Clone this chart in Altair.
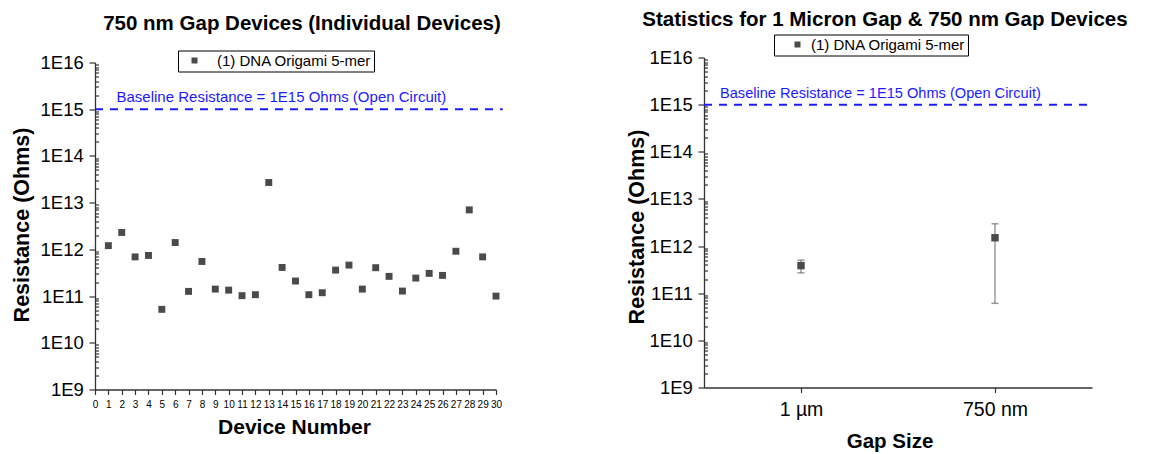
import altair as alt
import pandas as pd

# ---- data -------------------------------------------------------------
device_number = list(range(1, 31))
resistance_750nm = [
    1.2e12, 2.3e12, 6.9e11, 7.4e11, 5.2e10, 1.4e12, 1.26e11, 5.5e11, 1.41e11, 1.34e11,
    1.02e11, 1.07e11, 2.7e13, 4.1e11, 2.1e11, 1.07e11, 1.18e11, 3.6e11, 4.6e11, 1.41e11,
    4.05e11, 2.64e11, 1.28e11, 2.43e11, 3.06e11, 2.77e11, 9.1e11, 7.0e12, 6.9e11, 1.0e11,
]
series_name = "(1) DNA Origami 5-mer"

gap_labels = ["1 µm", "750 nm"]
gap_position = [1, 2]
gap_mean = [3.85e11, 1.5e12]
gap_low = [2.7e11, 6.1e10]
gap_high = [5.05e11, 2.97e12]

baseline_value = 1e15
baseline_label = "Baseline Resistance = 1E15 Ohms (Open Circuit)"

left_title = "750 nm Gap Devices (Individual Devices)"
right_title = "Statistics for 1 Micron Gap & 750 nm Gap Devices"

device_ticks = list(range(0, 31))
decade_ticks = [10 ** k for k in range(9, 17)]
minor_ticks = [m * 10 ** k for k in range(9, 16) for m in range(2, 10)]

# ---- style ------------------------------------------------------------
FONT = "Liberation Sans"
MARK = "#4a4a4a"
AXIS = "#333333"
BLUE = "#1a1aff"


def resistance_axis(title_x, title_y):
    # labelled decade ticks, pointing outward
    return alt.Axis(
        values=decade_ticks,
        labelExpr="'1E' + round(log(datum.value)/LN10)",
        tickSize=6,
        labelPadding=5.7,
        labelFontSize=18.5,
        labelBaseline="middle",
        labelOverlap=False,
        labelFlush=False,
        title="Resistance (Ohms)",
        titleFontSize=21.5,
        titleFontWeight="bold",
        titleAngle=270,
        titleAlign="center",
        titleBaseline="alphabetic",
        titleX=title_x,
        titleY=title_y,
    )


def minor_axis(plot_width):
    # unlabelled minor ticks, drawn on the left edge pointing inward
    return alt.Axis(
        orient="right", offset=-plot_width, values=minor_ticks,
        tickSize=3.5, labels=False, domain=False, title=None,
    )


def legend(x, y, sym_offset, lab_offset):
    return alt.Legend(
        orient="none", legendX=x, legendY=y, title=None,
        strokeColor="black", padding=2.5,
        symbolType="square", symbolSize=36, symbolOpacity=1, symbolStrokeWidth=0,
        symbolOffset=sym_offset, labelOffset=lab_offset,
        labelFontSize=15, labelFont=FONT,
    )


device_axis = alt.Axis(
    values=device_ticks, labelFontSize=10, tickSize=5, labelPadding=13.3,
    labelBaseline="alphabetic", labelOverlap=False, labelFlush=False,
    title="Device Number", titleFontSize=21, titleFontWeight="bold",
    titleBaseline="alphabetic", titleAlign="center", titleX=199, titleY=44)

gap_axis = alt.Axis(
    values=gap_position,
    labelExpr=f"datum.value == 1 ? '{gap_labels[0]}' : '{gap_labels[1]}'",
    labelFontSize=19.5, tickSize=5, labelPadding=23, labelBaseline="alphabetic",
    labelOverlap=False, labelFlush=False,
    title="Gap Size", titleFontSize=20.5, titleFontWeight="bold",
    titleBaseline="alphabetic", titleAlign="center", titleX=185.5, titleY=60)

# ---- left: individual devices -----------------------------------------
left_df = pd.DataFrame({"device": device_number, "resistance": resistance_750nm,
                        "series": series_name})
left_x = alt.Scale(domain=[0, 30], nice=False, zero=False)
left_y = alt.Scale(type="log", domain=[1e9, 1e16], range=[332, 5], nice=False)

left_points = alt.Chart(left_df).mark_square(size=48, opacity=1).encode(
    x=alt.X("device:Q", scale=left_x, axis=device_axis),
    y=alt.Y("resistance:Q", scale=left_y, axis=resistance_axis(-66.7, 167)),
    color=alt.Color("series:N", scale=alt.Scale(range=[MARK]),
                    legend=legend(83, -7, 6.5, 15)),
)

left_base_df = pd.DataFrame({"x0": [0], "x1": [30.5], "r": [baseline_value],
                             "label": [baseline_label]})
left_baseline = alt.Chart(left_base_df).mark_rule(
    color=BLUE, strokeWidth=2, strokeDash=[8, 7]
).encode(
    x=alt.X("x0:Q", axis=device_axis), x2="x1:Q",
    y=alt.Y("r:Q", axis=minor_axis(401)),
)
left_baseline_text = alt.Chart(left_base_df).mark_text(
    align="left", baseline="alphabetic", dy=-7.5, fontSize=15, color=BLUE, font=FONT
).encode(x=alt.value(21.5), y=alt.Y("r:Q", axis=None), text="label:N")

left_heading = alt.Chart(pd.DataFrame({"t": [left_title]})).mark_text(
    align="center", baseline="alphabetic", fontSize=20.5, fontWeight="bold",
    color="black", font=FONT
).encode(x=alt.value(207), y=alt.value(-28), text="t:N")

left_chart = alt.layer(
    left_points, left_baseline, left_baseline_text, left_heading
).resolve_axis(y="independent").properties(width=401, height=332)

# ---- right: statistics by gap size ------------------------------------
right_df = pd.DataFrame({"gap": gap_position, "mean": gap_mean, "low": gap_low,
                         "high": gap_high, "series": series_name})
right_x = alt.Scale(domain=[0.5, 2.5], nice=False, zero=False)
right_y = alt.Scale(type="log", domain=[1e9, 1e16], nice=False)

right_bars = alt.Chart(right_df).mark_rule(color="#9a9a9a", strokeWidth=1.5).encode(
    x=alt.X("gap:Q", scale=right_x, axis=gap_axis),
    y=alt.Y("low:Q", scale=right_y, axis=resistance_axis(-60.7, 169)),
    y2="high:Q",
)
right_cap_low = alt.Chart(right_df).mark_tick(
    orient="horizontal", size=7, thickness=1.5, color="#6e6e6e"
).encode(x=alt.X("gap:Q", axis=gap_axis), y=alt.Y("low:Q", axis=None))
right_cap_high = alt.Chart(right_df).mark_tick(
    orient="horizontal", size=7, thickness=1.5, color="#6e6e6e"
).encode(x=alt.X("gap:Q", axis=gap_axis), y=alt.Y("high:Q", axis=None))
right_points = alt.Chart(right_df).mark_square(size=55, opacity=1).encode(
    x=alt.X("gap:Q", axis=gap_axis), y=alt.Y("mean:Q", axis=None),
    color=alt.Color("series:N", scale=alt.Scale(range=[MARK]),
                    legend=legend(70, -23, 13.5, 6)),
)

right_base_df = pd.DataFrame({"x0": [0.5], "x1": [2.5], "r": [baseline_value],
                              "label": [baseline_label]})
right_baseline = alt.Chart(right_base_df).mark_rule(
    color=BLUE, strokeWidth=2, strokeDash=[8, 7]
).encode(
    x=alt.X("x0:Q", axis=gap_axis), x2="x1:Q",
    y=alt.Y("r:Q", axis=minor_axis(388)),
)
right_baseline_text = alt.Chart(right_base_df).mark_text(
    align="left", baseline="alphabetic", dy=-7, fontSize=14.6, color=BLUE, font=FONT
).encode(x=alt.value(16), y=alt.Y("r:Q", axis=None), text="label:N")

right_heading = alt.Chart(pd.DataFrame({"t": [right_title]})).mark_text(
    align="center", baseline="alphabetic", fontSize=20.5, fontWeight="bold",
    color="black", font=FONT
).encode(x=alt.value(181), y=alt.value(-32), text="t:N")

right_chart = alt.layer(
    right_bars, right_cap_low, right_cap_high, right_baseline,
    right_points, right_baseline_text, right_heading
).resolve_axis(y="independent").properties(width=388, height=330)

chart = alt.hconcat(left_chart, right_chart, spacing=208, bounds="flush").resolve_scale(
    color="independent"
).properties(
    padding={"left": 11, "top": 9.5, "right": 5, "bottom": 5}
).configure(font=FONT).configure_view(stroke=None).configure_axis(
    grid=False, domainColor=AXIS, domainWidth=1.3, tickColor=AXIS, tickWidth=1.2,
    labelColor="black", titleColor="black", labelFont=FONT, titleFont=FONT,
)

chart.save("out.html", embed_options={"renderer": "svg", "actions": False})
